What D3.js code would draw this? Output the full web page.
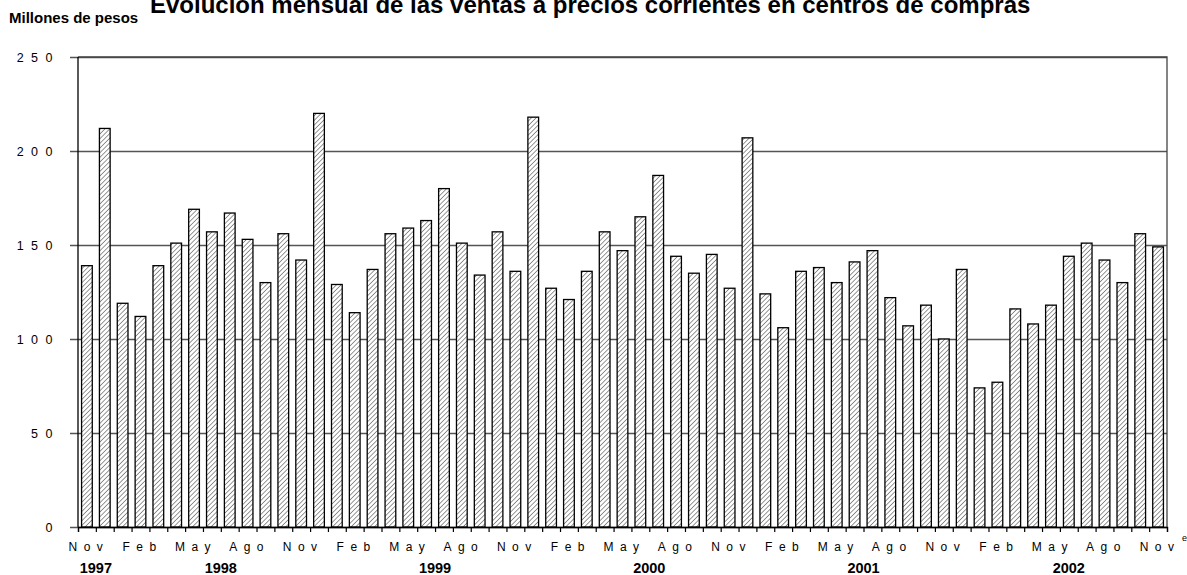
<!doctype html>
<html>
<head>
<meta charset="utf-8">
<script src="https://d3js.org/d3.v7.min.js"></script>
<style>
  body { margin: 0; background: #fff; }
  svg text { font-family: Arial, "Liberation Sans", sans-serif; fill: #000; }
</style>
</head>
<body>
<svg width="1187" height="575"></svg>
<script>
// monthly sales, millions of pesos, Nov 1997 .. Nov 2002
var monthNames = ["Ene","Feb","Mar","Abr","May","Jun","Jul","Ago","Sep","Oct","Nov","Dic"];
var years = ["1997","1998","1999","2000","2001","2002"];
var yTicks = [0, 50, 100, 150, 200, 250];
var values = [
  139, 212,
  119, 112, 139, 151, 169, 157, 167, 153, 130, 156, 142, 220,
  129, 114, 137, 156, 159, 163, 180, 151, 134, 157, 136, 218,
  127, 121, 136, 157, 147, 165, 187, 144, 135, 145, 127, 207,
  124, 106, 136, 138, 130, 141, 147, 122, 107, 118, 100, 137,
   74,  77, 116, 108, 118, 144, 151, 142, 130, 156, 149
];

// periods: year + month index, starting Nov 1997
var periods = values.map(function(d, i) {
  var m = (10 + i) % 12, y = 1997 + Math.floor((10 + i) / 12);
  return { key: y + "-" + m, year: String(y), month: monthNames[m], i: i };
});

var svg = d3.select("svg"),
    plotL = 78, plotR = 1167, plotT = 57, plotB = 527;

var x = d3.scaleBand()
    .domain(periods.map(function(d) { return d.key; }))
    .range([plotL, plotR])
    .paddingInner(0.4)
    .paddingOuter(0.2);
var xi = d3.scaleLinear().domain([0, periods.length]).range([plotL, plotR]);
var y = d3.scaleLinear().domain([0, 250]).range([plotB, plotT]);

// hatch pattern
var pat = svg.append("defs").append("pattern")
    .attr("id", "hatch")
    .attr("patternUnits", "userSpaceOnUse")
    .attr("width", 3.3).attr("height", 3.3)
    .attr("patternTransform", "rotate(45)");
pat.append("rect").attr("width", 3.3).attr("height", 3.3).attr("fill", "#fff");
pat.append("line").attr("x1", 0).attr("y1", 0).attr("x2", 0).attr("y2", 3.3)
    .attr("stroke", "#606060").attr("stroke-width", 1.3);

// gridlines + y ticks
var yAxis = svg.append("g")
    .attr("transform", "translate(" + plotL + ",0)")
    .call(d3.axisLeft(y).tickValues(yTicks).tickSizeInner(-(plotR - plotL)).tickSizeOuter(0).tickFormat(""));
yAxis.select(".domain").remove();
yAxis.selectAll(".tick line")
    .attr("x1", -8)
    .attr("stroke", "#555").attr("stroke-width", 1.3);

yAxis.selectAll(".tick").append("text")
    .attr("x", -18).attr("dy", "0.35em")
    .attr("text-anchor", "end")
    .attr("font-size", "12.5px")
    .attr("letter-spacing", "7.5px")
    .attr("fill", "#000")
    .text(function(d) { return d; });

// plot frame top/right
svg.append("path")
    .attr("d", "M" + plotL + "," + plotT + "H" + plotR + "V" + plotB)
    .attr("fill", "none").attr("stroke", "#444").attr("stroke-width", 1.3);

// bars
svg.selectAll(".bar")
    .data(periods)
    .enter().append("rect")
    .attr("class", "bar")
    .attr("x", function(d) { return x(d.key); })
    .attr("y", function(d) { return y(values[d.i]); })
    .attr("width", x.bandwidth())
    .attr("height", function(d) { return y(0) - y(values[d.i]); })
    .attr("fill", "url(#hatch)")
    .attr("stroke", "#000").attr("stroke-width", 1.3);

// x axis
var xAxis = svg.append("g")
    .attr("transform", "translate(0," + plotB + ")")
    .call(d3.axisBottom(xi).tickValues(d3.range(periods.length + 1)).tickSize(5).tickFormat(""));
xAxis.select(".domain").attr("stroke", "#000").attr("stroke-width", 1.3);
xAxis.selectAll(".tick line").attr("stroke", "#000").attr("stroke-width", 1.2);

// left axis line
svg.append("line")
    .attr("x1", plotL).attr("x2", plotL).attr("y1", plotT).attr("y2", plotB)
    .attr("stroke", "#000").attr("stroke-width", 1.3);

// month labels every third month
svg.append("g").selectAll("text")
    .data(periods.filter(function(d) { return d.i % 3 === 0; }))
    .enter().append("text")
    .attr("x", function(d) { return x(d.key) + x.bandwidth() / 2 + 2; })
    .attr("y", 551)
    .attr("text-anchor", "middle")
    .attr("font-size", "12px")
    .attr("letter-spacing", "6.5px")
    .text(function(d) { return d.month; });

// year labels centred under their months
svg.append("g").selectAll("text")
    .data(years)
    .enter().append("text")
    .attr("x", function(yr) {
      var idx = periods.filter(function(d) { return d.year === yr; }).map(function(d) { return d.i; });
      return (xi(d3.min(idx)) + xi(d3.max(idx) + 1)) / 2;
    })
    .attr("y", 572.5)
    .attr("text-anchor", "middle")
    .attr("font-size", "14.5px")
    .attr("font-weight", "bold")
    .text(function(d) { return d; });

svg.append("text")
    .attr("x", 1182).attr("y", 541)
    .attr("font-size", "9px")
    .text("e");

// titles
svg.append("text")
    .attr("x", 150).attr("y", 13)
    .attr("font-size", "24px")
    .attr("font-weight", "bold")
    .text("Evolución mensual de las ventas a precios corrientes en centros de compras");

svg.append("text")
    .attr("x", 9).attr("y", 23)
    .attr("font-size", "15px")
    .attr("font-weight", "bold")
    .text("Millones de pesos");
</script>
</body>
</html>
